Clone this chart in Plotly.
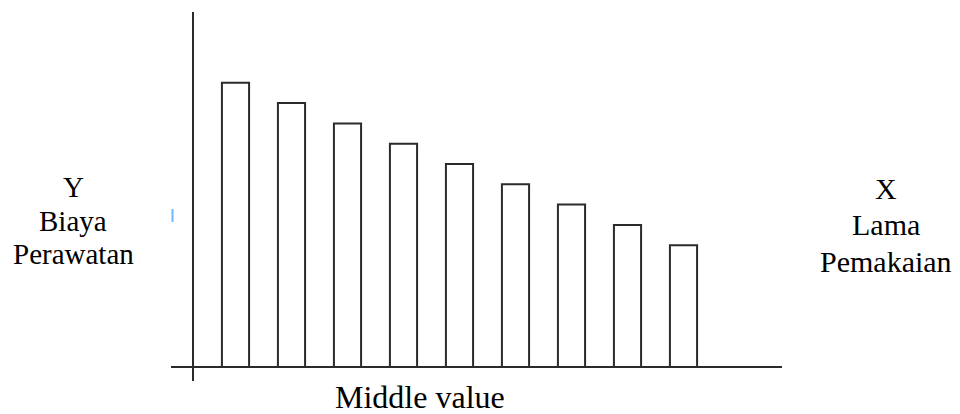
import plotly.graph_objects as go

# ---- data ----
periods = [1, 2, 3, 4, 5, 6, 7, 8, 9]
biaya = [14.0, 13.0, 12.0, 11.0, 10.0, 9.0, 8.0, 7.0, 6.0]
y_label = ["Y", "Biaya", "Perawatan"]
x_label = ["X", "Lama", "Pemakaian"]
bottom_label = "Middle value"

W, H = 960, 414
OFF = 8  # page body margin offset
# pixel <-> data helpers (layout only), pixels given in page coordinates
X0_PX, DX_PX = 235.5, 56.0     # pixel of category 1, pixels per category
Y0_PX, DY_PX = 367.0, 20.3     # pixel of value 0, pixels per unit


def px2x(px):
    return 1 + (px - X0_PX) / DX_PX


def py2y(py):
    return (Y0_PX - py) / DY_PX


FONT = "Liberation Serif"
LINE = "#2b2b2b"

fig = go.Figure()
fig.add_trace(go.Bar(
    x=periods, y=biaya, width=0.485,
    marker=dict(color="white", line=dict(color=LINE, width=2)),
    hoverinfo="skip",
))

shapes = [
    dict(type="line", xref="x", yref="y", x0=px2x(171), x1=px2x(782),
         y0=0, y1=0, line=dict(color=LINE, width=2)),
    dict(type="line", xref="x", yref="y", x0=px2x(193), x1=px2x(193),
         y0=py2y(381), y1=py2y(12), line=dict(color=LINE, width=2)),
    dict(type="line", xref="x", yref="y", x0=px2x(172.5), x1=px2x(172.5),
         y0=py2y(209), y1=py2y(222), line=dict(color="#6cb6ff", width=2)),
]

annotations = []
for txt, py in zip(y_label, [187, 221, 254]):
    annotations.append(dict(text=txt, x=px2x(73), y=py2y(py), xref="x", yref="y",
                            showarrow=False, xanchor="center", yanchor="middle",
                            font=dict(family=FONT, size=29, color="black")))
for txt, py in zip(x_label, [188, 224, 261]):
    annotations.append(dict(text=txt, x=px2x(886), y=py2y(py), xref="x", yref="y",
                            showarrow=False, xanchor="center", yanchor="middle",
                            font=dict(family=FONT, size=30, color="black")))
annotations.append(dict(text=bottom_label, x=px2x(420), y=py2y(397), xref="x", yref="y",
                        showarrow=False, xanchor="center", yanchor="middle",
                        font=dict(family=FONT, size=32, color="black")))

fig.update_layout(
    width=W, height=H,
    margin=dict(l=0, r=0, t=0, b=0),
    paper_bgcolor="white", plot_bgcolor="white",
    showlegend=False,
    font=dict(family=FONT),
    xaxis=dict(range=[px2x(OFF), px2x(W + OFF)], visible=False, fixedrange=True),
    yaxis=dict(range=[py2y(H + OFF), py2y(OFF)], visible=False, fixedrange=True),
    shapes=shapes,
    annotations=annotations,
)

fig.write_html("out.html")
